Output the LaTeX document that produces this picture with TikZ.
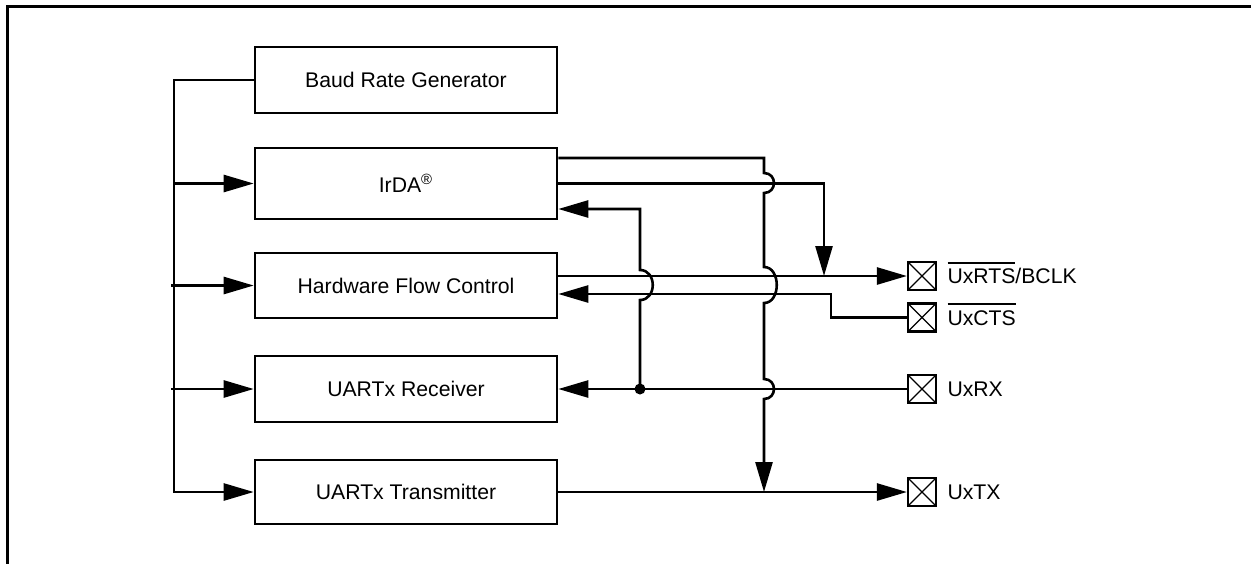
\documentclass[tikz,border=0pt]{standalone}
\usepackage{fontspec}
\setmainfont{Liberation Sans}
\usetikzlibrary{arrows.meta,calc}
\newcommand\ovbar[1]{\vbox{\hrule height 1pt\kern 2.6pt\hbox{#1}}}
\begin{document}
\begin{tikzpicture}[x=0.5pt,y=-0.5pt,
  wire/.style={line width=1.3pt},
  arr/.style={wire,-{Triangle[length=15pt,width=8.5pt]}},
  blk/.style={draw,line width=1.3pt,minimum width=151pt,minimum height=33pt,inner sep=0pt,
    font=\fontsize{10.6}{12.7}\selectfont},
  pinbox/.style={draw,line width=1.1pt,minimum size=14pt,inner sep=0pt,
    path picture={\draw[line width=0.6pt] (path picture bounding box.north west) -- (path picture bounding box.south east)
      (path picture bounding box.south west) -- (path picture bounding box.north east);}},
  plabel/.style={anchor=base west,inner sep=0pt,font=\fontsize{10.6}{12.7}\selectfont},
  jdot/.style={circle,fill,inner sep=0pt,minimum size=5.5pt}
]
\useasboundingbox (0,0) rectangle (1251,563);
\clip (0,0) rectangle (1251,563);
% frame
\draw[line width=1.5pt] (7,600) -- (7,6) -- (1300,6);

% blocks
\node[blk] (baud) at (406,80) {Baud Rate Generator};
\node[blk,minimum height=35.5pt] (irda) at (406,183.5) {IrDA\textsuperscript{®}};
\node[blk,minimum height=32.5pt] (hfc) at (406,285.5) {Hardware Flow Control};
\node[blk] (rx) at (406,389) {UARTx Receiver};
\node[blk,minimum height=32pt] (tx) at (406,492) {UARTx Transmitter};

% pins
\node[pinbox] (prts) at (922,276) {};
\node[pinbox] (pcts) at (922,317.5) {};
\node[pinbox] (prx) at (922,389) {};
\node[pinbox] (ptx) at (922,492) {};
\node[plabel] (lrts) at ($(prts.east)+(10,7.6)$) {\ovbar{UxRTS}/BCLK};
\node[plabel] (lcts) at ($(pcts.east)+(10,7.6)$) {\ovbar{UxCTS}};
\node[plabel] (lrx) at ($(prx.east)+(10,7.6)$) {UxRX};
\node[plabel] (ltx) at ($(ptx.east)+(10,7.6)$) {UxTX};

% left bus
\coordinate (busT) at (174,80);
\coordinate (busB) at (174,492);
\coordinate (stub) at (171,80);
\draw[arr] (baud.west) -- (busT) -- (busB) -- (tx.west);
\draw[arr] (busT |- irda.west) -- (irda.west);
\draw[arr] (stub |- hfc.west) -- (hfc.west);
\draw[arr] (stub |- rx.west) -- (rx.west);

% right side connection points
\coordinate (iA) at ($(irda.east)+(0,-25.5)$);
\coordinate (iC) at ($(irda.east)+(0,25.5)$);
\coordinate (hA) at ($(hfc.east)+(0,-9.5)$);
\coordinate (hB) at ($(hfc.east)+(0,8.5)$);

% straight signals
\draw[arr] (hA) -- (prts.west);
\coordinate (c3) at (831,317.5);
\draw[arr] (pcts.west) -- (c3) -- (c3 |- hB) -- (hB);
\draw[arr] (prx.west) -- (rx.east);
\draw[arr] (tx.east) -- (ptx.west);

% IrDA second output to RTS line
\coordinate (c2) at (824,183.5);
\draw[arr] (irda.east) -- (c2) -- (c2 |- hA);

% junction and IrDA input
\node[jdot] (dot) at (640,389) {};
\draw[arr] (dot.center) -- (640,300) .. controls (657,300) and (657,270) .. (640,270) -- (dot |- iC) -- (iC);

% IrDA first output down to TX line
\coordinate (c1) at (764,158);
\draw[arr] (iA) -- (c1) -- (764,173) .. controls (777.3,173) and (777.3,193) .. (764,193)
  -- (764,267) .. controls (781,267) and (781,303) .. (764,303)
  -- (764,379) .. controls (777.3,379) and (777.3,399) .. (764,399)
  -- (c1 |- tx.east);
\end{tikzpicture}
\end{document}
